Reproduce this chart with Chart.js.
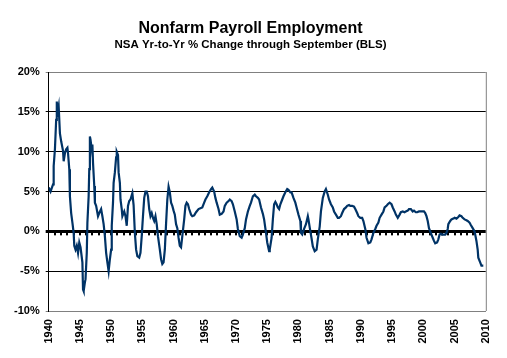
<!DOCTYPE html>
<html>
<head>
<meta charset="utf-8">
<script src="https://cdn.jsdelivr.net/npm/chart.js@4.4.0/dist/chart.umd.min.js"></script>
<style>
  html, body { margin: 0; padding: 0; background: #fff; }
</style>
</head>
<body>
<canvas id="payrollChart" width="507" height="358"></canvas>
<script>
// decimal years and NSA yr-to-yr % change
const dates = [
  1940.0, 1940.3, 1940.7, 1940.8, 1941.0, 1941.2, 1941.3, 1941.4, 1941.6, 1941.8,
  1942.0, 1942.3, 1942.4, 1942.6, 1942.8, 1943.0, 1943.1, 1943.3, 1943.4, 1943.6,
  1943.8, 1944.0, 1944.1, 1944.3, 1944.5, 1944.7, 1944.9, 1945.1, 1945.4, 1945.5,
  1945.6, 1945.8, 1945.9, 1946.1, 1946.2, 1946.4, 1946.5, 1946.6, 1946.7, 1946.9,
  1947.0, 1947.1, 1947.3, 1947.4, 1947.6, 1947.9, 1948.1, 1948.4, 1948.6, 1948.8,
  1949.0, 1949.2, 1949.4, 1949.6, 1949.8, 1950.0, 1950.1, 1950.3, 1950.4, 1950.6,
  1950.8, 1950.9, 1951.1, 1951.2, 1951.4, 1951.5, 1951.7, 1951.8, 1952.1, 1952.3,
  1952.5, 1952.7, 1952.9, 1953.1, 1953.4, 1953.6, 1953.8, 1954.0, 1954.2, 1954.5,
  1954.7, 1954.9, 1955.1, 1955.3, 1955.5, 1955.7, 1955.9, 1956.1, 1956.3, 1956.5,
  1956.7, 1956.9, 1957.1, 1957.3, 1957.5, 1957.8, 1958.0, 1958.2, 1958.4, 1958.6,
  1958.8, 1959.0, 1959.2, 1959.4, 1959.6, 1959.8, 1960.0, 1960.2, 1960.4, 1960.6,
  1960.8, 1961.0, 1961.2, 1961.4, 1961.7, 1961.9, 1962.1, 1962.3, 1962.5, 1962.8,
  1963.0, 1963.3, 1963.6, 1964.0, 1964.3, 1964.6, 1964.9, 1965.1, 1965.4, 1965.7,
  1966.0, 1966.2, 1966.5, 1966.7, 1966.9, 1967.2, 1967.4, 1967.7, 1968.0, 1968.2,
  1968.5, 1968.8, 1969.0, 1969.3, 1969.5, 1969.8, 1970.1, 1970.3, 1970.6, 1970.9,
  1971.1, 1971.4, 1971.6, 1971.9, 1972.2, 1972.4, 1972.7, 1973.0, 1973.2, 1973.5,
  1973.7, 1974.0, 1974.3, 1974.5, 1974.8, 1975.0, 1975.3, 1975.4, 1975.7, 1975.9,
  1976.1, 1976.3, 1976.5, 1976.7, 1976.9, 1977.1, 1977.4, 1977.6, 1977.9, 1978.2,
  1978.4, 1978.7, 1978.9, 1979.2, 1979.5, 1979.7, 1980.0, 1980.3, 1980.4, 1980.6,
  1980.9, 1981.2, 1981.5, 1981.6, 1981.8, 1982.1, 1982.3, 1982.6, 1982.9, 1983.1,
  1983.4, 1983.6, 1983.9, 1984.2, 1984.4, 1984.7, 1984.9, 1985.2, 1985.5, 1985.7,
  1986.0, 1986.3, 1986.5, 1986.8, 1987.0, 1987.3, 1987.6, 1987.8, 1988.1, 1988.3,
  1988.6, 1988.9, 1989.1, 1989.4, 1989.6, 1989.9, 1990.2, 1990.4, 1990.7, 1990.9,
  1991.2, 1991.5, 1991.7, 1992.0, 1992.3, 1992.5, 1992.8, 1993.0, 1993.3, 1993.6,
  1993.8, 1994.1, 1994.3, 1994.6, 1994.9, 1995.1, 1995.4, 1995.6, 1995.9, 1996.2,
  1996.4, 1996.7, 1997.0, 1997.2, 1997.5, 1997.7, 1998.0, 1998.3, 1998.5, 1998.8,
  1999.0, 1999.3, 1999.6, 1999.8, 2000.1, 2000.3, 2000.5, 2000.7, 2000.9, 2001.1,
  2001.3, 2001.5, 2001.7, 2001.9, 2002.2, 2002.4, 2002.6, 2002.8, 2003.0, 2003.2,
  2003.5, 2003.7, 2003.9, 2004.0, 2004.3, 2004.5, 2004.8, 2005.0, 2005.3, 2005.6,
  2005.8, 2006.1, 2006.3, 2006.6, 2006.9, 2007.1, 2007.4, 2007.6, 2007.9, 2008.2,
  2008.3, 2008.5, 2008.7, 2008.8, 2009.1, 2009.3, 2009.6, 2009.7
];

const pctChange = [
  5.5, 5.0, 5.9, 8.2, 10.3, 14.0, 16.3, 14.8, 15.7, 12.3,
  11.3, 10.1, 8.8, 9.8, 10.3, 10.5, 9.8, 7.8, 4.4, 2.3,
  1.1, -0.2, -1.8, -2.3, -1.8, -2.7, -1.4, -2.0, -3.9, -7.3,
  -7.5, -6.4, -6.0, -2.7, 1.1, 4.4, 7.8, 11.9, 11.5, 10.3,
  10.9, 8.6, 5.7, 3.6, 3.2, 1.9, 2.3, 2.8, 1.9, 0.9,
  -0.6, -2.7, -3.9, -5.0, -3.5, -2.3, 0.7, 3.6, 6.1, 7.4,
  9.3, 10.0, 9.6, 7.4, 6.1, 4.0, 2.8, 1.9, 2.5, 1.9,
  0.7, 3.2, 3.8, 4.0, 4.8, 3.3, -0.2, -2.3, -3.1, -3.3,
  -2.7, -0.6, 1.9, 4.2, 5.0, 5.0, 4.4, 2.8, 1.9, 2.3,
  1.7, 1.3, 1.9, 0.9, -0.6, -2.3, -3.5, -4.1, -3.9, -2.3,
  1.0, 4.0, 5.6, 4.9, 3.6, 3.2, 2.6, 2.1, 0.9, 0.4,
  -0.8, -1.8, -2.0, -0.6, 1.5, 3.2, 3.6, 3.4, 2.8, 2.1,
  1.9, 2.0, 2.4, 2.8, 2.9, 3.0, 3.6, 4.0, 4.4, 4.9,
  5.3, 5.5, 5.0, 4.2, 3.6, 2.8, 2.1, 2.2, 2.5, 3.2,
  3.6, 3.8, 4.0, 3.8, 3.4, 2.5, 1.5, 0.3, -0.6, -0.8,
  -0.4, 0.4, 1.5, 2.5, 3.2, 3.6, 4.4, 4.6, 4.4, 4.2,
  4.0, 3.0, 2.2, 1.5, -0.2, -1.4, -2.5, -2.3, -0.8, 1.5,
  3.4, 3.7, 3.4, 3.0, 2.8, 3.4, 4.0, 4.4, 4.9, 5.3,
  5.2, 4.9, 4.9, 4.2, 3.6, 3.0, 2.1, 1.3, -0.2, -0.4,
  0.3, 0.9, 1.9, 1.5, 0.5, -0.9, -1.9, -2.5, -2.3, -1.0,
  0.6, 2.5, 4.2, 5.0, 5.3, 4.6, 4.0, 3.4, 3.0, 2.5,
  2.1, 1.7, 1.7, 1.9, 2.3, 2.8, 3.0, 3.2, 3.3, 3.2,
  3.2, 3.1, 2.8, 2.3, 1.9, 1.7, 1.7, 1.3, 0.3, -0.8,
  -1.5, -1.4, -1.0, -0.2, 0.3, 0.7, 1.1, 1.7, 2.1, 2.5,
  3.0, 3.2, 3.4, 3.6, 3.4, 3.0, 2.5, 2.1, 1.7, 2.1,
  2.4, 2.5, 2.4, 2.5, 2.6, 2.8, 2.8, 2.5, 2.6, 2.4,
  2.4, 2.5, 2.5, 2.5, 2.5, 2.3, 1.9, 1.3, 0.4, 0.0,
  -0.4, -0.8, -1.2, -1.5, -1.4, -1.0, -0.4, -0.3, -0.4, -0.4,
  -0.4, -0.2, 0.3, 0.9, 1.3, 1.5, 1.6, 1.7, 1.6, 1.8,
  2.0, 1.9, 1.7, 1.5, 1.4, 1.3, 1.1, 0.8, 0.4, 0.0,
  -0.4, -1.2, -2.3, -3.3, -3.9, -4.3, -4.3, -4.3
];

const yearTicks = [1940, 1945, 1950, 1955, 1960, 1965, 1970, 1975, 1980, 1985, 1990, 1995, 2000, 2005, 2010];
const pctTicks = [-10, -5, 0, 5, 10, 15, 20];

const FONT = "Arial, 'Liberation Sans', Helvetica, sans-serif";

// Excel style frame: grey right border + little year ticks hanging under the 0% line
const excelFrame = {
    id: 'excelFrame',
    beforeDatasetsDraw(chart) {
        const { ctx, chartArea, scales } = chart;
        const y0 = scales.y.getPixelForValue(0);
        ctx.save();
        ctx.fillStyle = '#000';
        for (let yr = 1941; yr < 2010; yr++) {
            const x = Math.round(scales.x.getPixelForValue(yr));
            ctx.fillRect(x - 1, y0, 2, 4);
        }
        ctx.strokeStyle = '#808080';
        ctx.lineWidth = 1;
        ctx.beginPath();
        ctx.moveTo(chartArea.right + 0.5, chartArea.top);
        ctx.lineTo(chartArea.right + 0.5, chartArea.bottom);
        ctx.stroke();
        ctx.restore();
    }
};

const ctx = document.getElementById('payrollChart').getContext('2d');
const payrollChart = new Chart(ctx, {
    type: 'line',
    data: {
        datasets: [{
            label: 'Nonfarm Payroll Employment',
            data: dates.map((d, i) => ({ x: d, y: pctChange[i] })),
            borderColor: '#003366',
            borderWidth: 2.2,
            pointRadius: 0,
            tension: 0,
            fill: false
        }]
    },
    options: {
        responsive: false,
        animation: false,
        devicePixelRatio: 1,
        layout: { padding: { left: 8, right: 14, top: 0, bottom: 6.5 } },
        plugins: {
            legend: { display: false },
            tooltip: { enabled: false },
            title: {
                display: true,
                text: 'Nonfarm Payroll Employment',
                color: '#000',
                font: { family: FONT, size: 16, weight: 'bold' },
                padding: { top: 19, bottom: 0 }
            },
            subtitle: {
                display: true,
                text: 'NSA Yr-to-Yr % Change through September (BLS)',
                color: '#000',
                font: { family: FONT, size: 11.5, weight: 'bold' },
                padding: { top: 0, bottom: 20 }
            }
        },
        scales: {
            x: {
                type: 'linear',
                min: 1940,
                max: 2010,
                afterBuildTicks: (scale) => { scale.ticks = yearTicks.map(v => ({ value: v })); },
                ticks: {
                    callback: (v) => String(v),
                    color: '#000',
                    font: { family: FONT, size: 11, weight: 'bold' },
                    minRotation: 90,
                    maxRotation: 90,
                    autoSkip: false,
                    padding: 8
                },
                grid: { display: false, drawTicks: false },
                border: { color: '#808080', width: 1 }
            },
            y: {
                min: -10,
                max: 20,
                afterBuildTicks: (scale) => { scale.ticks = pctTicks.map(v => ({ value: v })); },
                ticks: {
                    callback: (v) => v + '%',
                    color: '#000',
                    font: { family: FONT, size: 11, weight: 'bold' },
                    padding: 6
                },
                grid: {
                    color: (c) => (c.tick && (c.tick.value === 20 || c.tick.value === -10)) ? '#808080' : '#000',
                    lineWidth: (c) => (c.tick && c.tick.value === 0) ? 3 : 1,
                    tickLength: 3,
                    drawTicks: true
                },
                border: { color: '#000', width: 1 }
            }
        }
    },
    plugins: [excelFrame]
});
</script>
</body>
</html>
